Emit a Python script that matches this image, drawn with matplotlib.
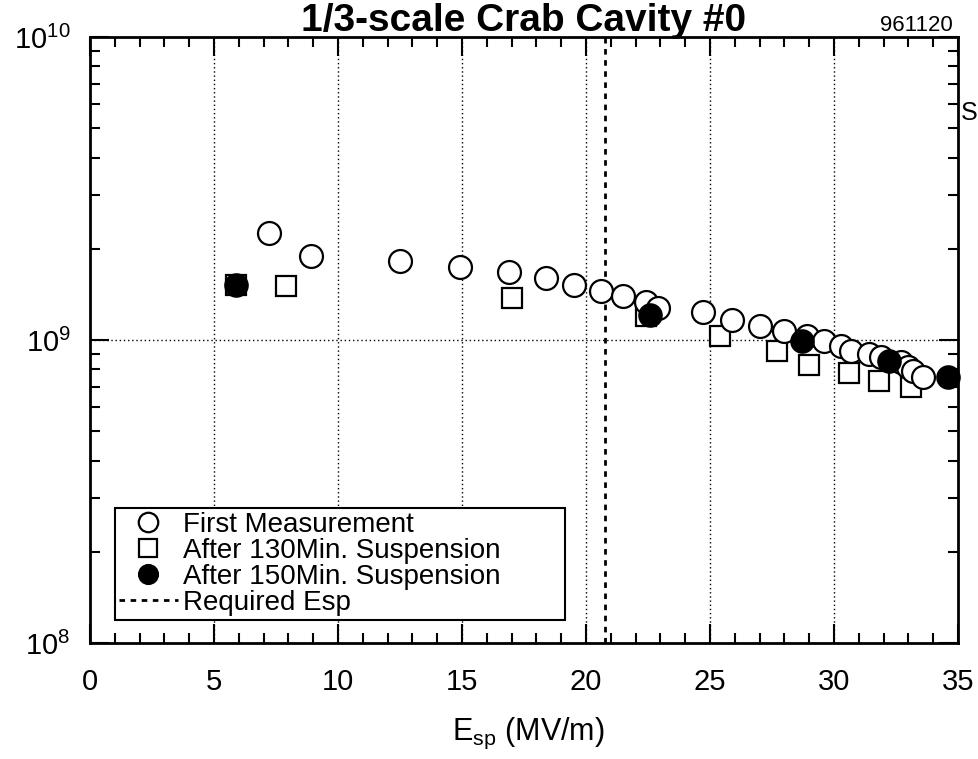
import matplotlib
matplotlib.use("Agg")
import matplotlib.pyplot as plt
from matplotlib.ticker import LogLocator, MultipleLocator, NullFormatter

plt.rcParams['font.family'] = ['Liberation Sans', 'DejaVu Sans']
plt.rcParams['mathtext.fontset'] = 'custom'
plt.rcParams['mathtext.rm'] = 'Liberation Sans'

# Data
first_x = [7.2, 8.9, 12.5, 14.9, 16.9, 18.4, 19.5, 20.6, 21.5, 22.4, 22.9, 24.7, 25.9,
           27.0, 28.0, 28.9, 29.6, 30.3, 30.7, 31.4, 31.9, 32.7, 33.0, 33.2, 33.6]
first_y = [2.25e9, 1.89e9, 1.82e9, 1.74e9, 1.68e9, 1.60e9, 1.52e9, 1.45e9, 1.40e9, 1.33e9,
           1.28e9, 1.24e9, 1.16e9, 1.11e9, 1.07e9, 1.03e9, 0.99e9, 0.955e9, 0.92e9, 0.90e9,
           0.88e9, 0.846e9, 0.815e9, 0.79e9, 0.755e9]
s130_x = [5.9, 7.9, 17.0, 22.4, 25.4, 27.7, 29.0, 30.6, 31.8, 33.1]
s130_y = [1.52e9, 1.51e9, 1.38e9, 1.20e9, 1.03e9, 0.92e9, 0.83e9, 0.78e9, 0.73e9, 0.70e9]
s150_x = [5.9, 22.6, 28.7, 32.2, 34.6]
s150_y = [1.52e9, 1.21e9, 0.99e9, 0.85e9, 0.755e9]
required_esp = 20.75

labels = ["First Measurement", "After 130Min. Suspension",
          "After 150Min. Suspension", "Required Esp"]

fig = plt.figure(figsize=(9.79, 7.59), dpi=100)
ax = fig.add_axes([90/979, 1-643/759, 868/979, 606/759])

ax.set_xlim(0, 35)
ax.set_yscale('log')
ax.set_ylim(1e8, 1e10)

# grid
for gx in [5, 10, 15, 20, 25, 30]:
    ax.axvline(gx, color='black', lw=1.0, ls=(0, (1, 2)), zorder=1)
ax.axhline(1e9, color='black', lw=1.0, ls=(0, (1, 2)), zorder=1)

l1, = ax.plot(first_x, first_y, 'o', ms=16.5, mfc='white', mec='black', mew=1.6,
              zorder=3, clip_on=False)
l2, = ax.plot(s130_x, s130_y, 's', ms=15, mfc='white', mec='black', mew=1.6,
              zorder=2, clip_on=False)
l3, = ax.plot(s150_x, s150_y, 'o', ms=16.5, mfc='black', mec='black', mew=1.2,
              zorder=4, clip_on=False)
l4 = ax.axvline(required_esp, color='black', lw=2.0, ls=(0, (2, 2)), zorder=1)

leg = ax.legend([l1, l2, l3, l4], labels, loc='lower left', mode='expand',
                bbox_to_anchor=(25/868, 23/606, 450/868, 0.2), borderaxespad=0,
                fontsize=20, frameon=True, fancybox=False, framealpha=1,
                edgecolor='black', handlelength=2.1, handletextpad=0.2,
                labelspacing=0.0, borderpad=0.15, markerscale=0.85)
leg.get_frame().set_linewidth(1.5)
leg.set_zorder(5)

# ticks
ax.xaxis.set_major_locator(MultipleLocator(5))
ax.xaxis.set_minor_locator(MultipleLocator(1))
ax.yaxis.set_major_locator(LogLocator(base=10, numticks=5))
ax.yaxis.set_minor_locator(LogLocator(base=10, subs=range(2, 10), numticks=20))
ax.yaxis.set_minor_formatter(NullFormatter())
ax.tick_params(which='both', direction='in', top=True, right=True, width=1.5)
ax.tick_params(which='major', length=14)
ax.tick_params(which='minor', length=7)
ax.tick_params(axis='x', which='major', labelsize=21, pad=18)
ax.tick_params(axis='y', which='major', labelsize=21, pad=14)
for sp in ax.spines.values():
    sp.set_linewidth(2.0)

ax.set_xlabel(r'$\mathregular{E_{sp}}$ (MV/m)', fontsize=22)
ax.xaxis.set_label_coords(0.505, (643 - 716) / 606)

fig.text(0.535, 1 - 31/759, '1/3-scale Crab Cavity #0', ha='center', va='baseline',
         fontsize=28, fontweight='bold')
fig.text(953/979, 1 - 31/759, '961120', ha='right', va='baseline', fontsize=16)
fig.text(978/979, 1 - 120/759, 'S', ha='right', va='baseline', fontsize=18)

fig.savefig('out.png', dpi=100)
